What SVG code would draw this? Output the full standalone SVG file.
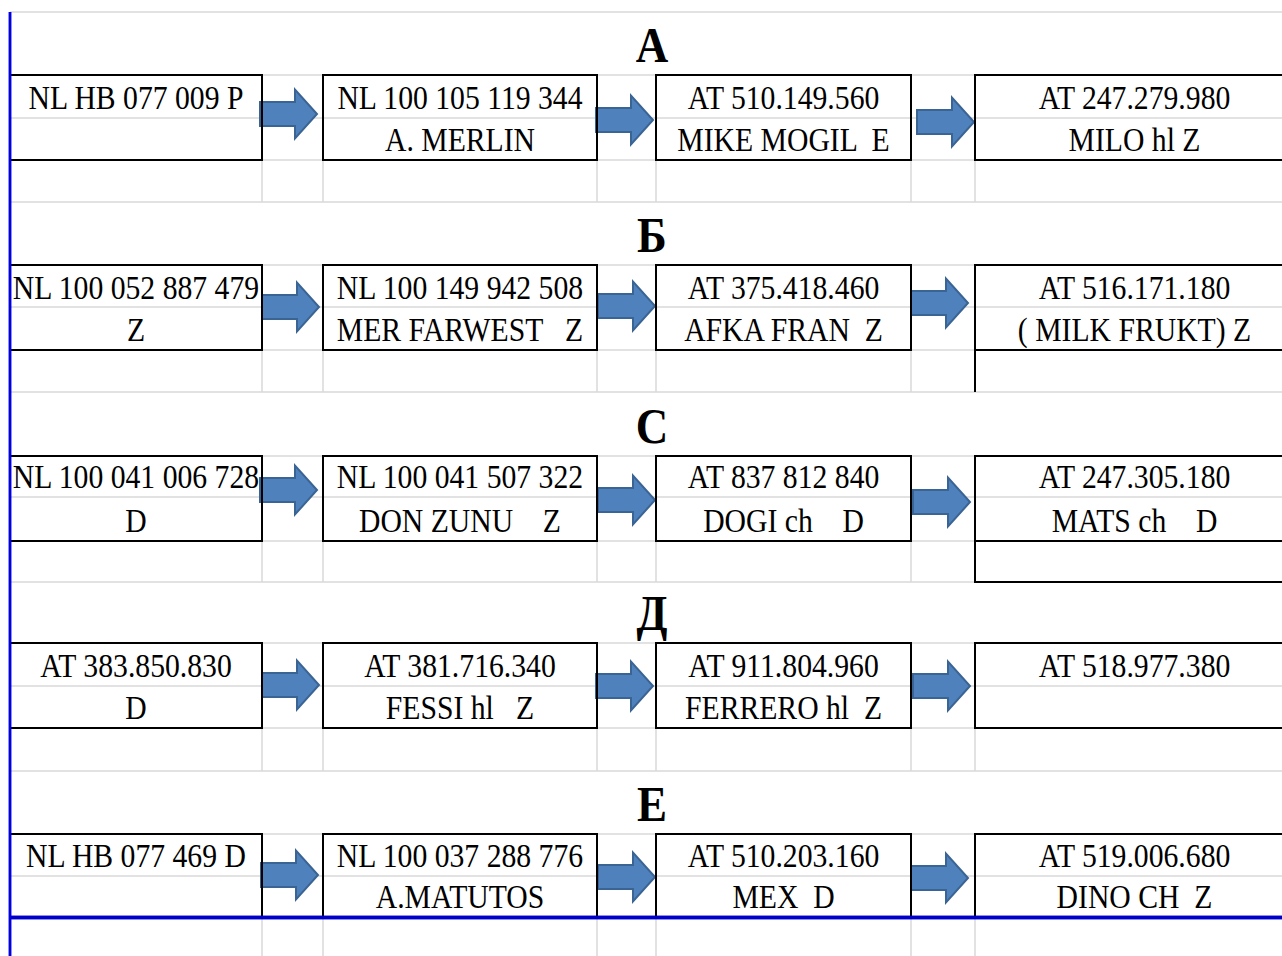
<svg xmlns="http://www.w3.org/2000/svg" width="1282" height="956" viewBox="0 0 1282 956">
<style>
.g{stroke:#d9d9d9;stroke-width:1.5;fill:none}
.b{stroke:#000;stroke-width:2;fill:none}
.t{font-family:"Liberation Serif","Times New Roman",serif;font-size:33px;fill:#000;text-anchor:middle;white-space:pre}
.h{font-family:"Liberation Serif","Times New Roman",serif;font-size:50px;font-weight:bold;fill:#000;text-anchor:middle}
.ar{fill:#4f81bd;stroke:#3a6494;stroke-width:2}
</style>
<defs>
<path id="arr" d="M0,-12 H35 V-24.5 L57,0 L35,24.5 V12 H0 Z"/>
</defs>
<rect x="0" y="0" width="1282" height="956" fill="#fff"/>
<g id="grid">
<path class="g" d="M10,12H1282 M10,75H1282 M10,118H1282 M10,160H1282 M10,202H1282 M10,265H1282 M10,307H1282 M10,350H1282 M10,392H1282 M10,456H1282 M10,497H1282 M10,541H1282 M10,582H1282 M10,643H1282 M10,686H1282 M10,728H1282 M10,771H1282 M10,834H1282 M10,876H1282"/>
<path class="g" d="M262,75V202 M323,75V202 M597,75V202 M656,75V202 M911,75V202 M975,75V202
M262,265V392 M323,265V392 M597,265V392 M656,265V392 M911,265V392 M975,265V392
M262,456V582 M323,456V582 M597,456V582 M656,456V582 M911,456V582 M975,456V582
M262,643V771 M323,643V771 M597,643V771 M656,643V771 M911,643V771 M975,643V771
M262,834V956 M323,834V956 M597,834V956 M656,834V956 M911,834V956 M975,834V956"/>
<line x1="10" y1="12" x2="10" y2="956" stroke="#0000e0" stroke-width="2.5"/>
<line x1="10" y1="917.5" x2="1282" y2="917.5" stroke="#0000cc" stroke-width="3.5"/>
</g>
<g id="titles" transform="scale(0.9,1)">
<text class="h" x="724.4" y="62">А</text>
<text class="h" x="724.4" y="252">Б</text>
<text class="h" x="724.4" y="443">С</text>
<text class="h" x="724.4" y="630">Д</text>
<text class="h" x="724.4" y="821">Е</text>
</g>
<g id="connectors">
<use href="#arr" class="ar" transform="translate(260,114)"/>
<use href="#arr" class="ar" transform="translate(596,120)"/>
<use href="#arr" class="ar" transform="translate(917,122)"/>
<use href="#arr" class="ar" transform="translate(262,307)"/>
<use href="#arr" class="ar" transform="translate(598,306)"/>
<use href="#arr" class="ar" transform="translate(911,303)"/>
<use href="#arr" class="ar" transform="translate(260,490)"/>
<use href="#arr" class="ar" transform="translate(598,500)"/>
<use href="#arr" class="ar" transform="translate(913,502)"/>
<use href="#arr" class="ar" transform="translate(262,685)"/>
<use href="#arr" class="ar" transform="translate(596,686)"/>
<use href="#arr" class="ar" transform="translate(913,686)"/>
<use href="#arr" class="ar" transform="translate(261,875)"/>
<use href="#arr" class="ar" transform="translate(598,877)"/>
<use href="#arr" class="ar" transform="translate(911,878)"/>
</g>
<g id="A1"><rect class="b" x="10" y="75" width="252" height="85"/><text class="t" transform="scale(0.9,1)" x="151.1" y="109">NL HB 077 009 P</text></g>
<g id="A2"><rect class="b" x="323" y="75" width="274" height="85"/><text class="t" transform="scale(0.9,1)" x="511.1" y="109">NL 100 105 119 344</text><text class="t" transform="scale(0.9,1)" x="511.1" y="151">A. MERLIN</text></g>
<g id="A3"><rect class="b" x="656" y="75" width="255" height="85"/><text class="t" transform="scale(0.9,1)" x="870.6" y="109">AT 510.149.560</text><text class="t" transform="scale(0.9,1)" x="870.6" y="151">MIKE MOGIL  E</text></g>
<g id="A4"><rect class="b" x="975" y="75" width="330" height="85"/><text class="t" transform="scale(0.9,1)" x="1260.6" y="109">AT 247.279.980</text><text class="t" transform="scale(0.9,1)" x="1260.6" y="151">MILO hl Z</text></g>

<g id="B1"><rect class="b" x="10" y="265" width="252" height="85"/><text class="t" transform="scale(0.9,1)" x="151.1" y="299">NL 100 052 887 479</text><text class="t" transform="scale(0.9,1)" x="151.1" y="341">Z</text></g>
<g id="B2"><rect class="b" x="323" y="265" width="274" height="85"/><text class="t" transform="scale(0.9,1)" x="511.1" y="299">NL 100 149 942 508</text><text class="t" transform="scale(0.9,1)" x="511.1" y="341">MER FARWEST   Z</text></g>
<g id="B3"><rect class="b" x="656" y="265" width="255" height="85"/><text class="t" transform="scale(0.9,1)" x="870.6" y="299">AT 375.418.460</text><text class="t" transform="scale(0.9,1)" x="870.6" y="341">AFKA FRAN  Z</text></g>
<g id="B4"><rect class="b" x="975" y="265" width="330" height="85"/><path class="b" d="M975,350V392"/><text class="t" transform="scale(0.9,1)" x="1260.6" y="299">AT 516.171.180</text><text class="t" transform="scale(0.9,1)" x="1260.6" y="341">( MILK FRUKT) Z</text></g>

<g id="C1"><rect class="b" x="10" y="456" width="252" height="85"/><text class="t" transform="scale(0.9,1)" x="151.1" y="488">NL 100 041 006 728</text><text class="t" transform="scale(0.9,1)" x="151.1" y="532">D</text></g>
<g id="C2"><rect class="b" x="323" y="456" width="274" height="85"/><text class="t" transform="scale(0.9,1)" x="511.1" y="488">NL 100 041 507 322</text><text class="t" transform="scale(0.9,1)" x="511.1" y="532">DON ZUNU    Z</text></g>
<g id="C3"><rect class="b" x="656" y="456" width="255" height="85"/><text class="t" transform="scale(0.9,1)" x="870.6" y="488">AT 837 812 840</text><text class="t" transform="scale(0.9,1)" x="870.6" y="532">DOGI ch    D</text></g>
<g id="C4"><rect class="b" x="975" y="456" width="330" height="126"/><path class="b" d="M975,541H1282"/><text class="t" transform="scale(0.9,1)" x="1260.6" y="488">AT 247.305.180</text><text class="t" transform="scale(0.9,1)" x="1260.6" y="532">MATS ch    D</text></g>

<g id="D1"><rect class="b" x="10" y="643" width="252" height="85"/><text class="t" transform="scale(0.9,1)" x="151.1" y="677">AT 383.850.830</text><text class="t" transform="scale(0.9,1)" x="151.1" y="719">D</text></g>
<g id="D2"><rect class="b" x="323" y="643" width="274" height="85"/><text class="t" transform="scale(0.9,1)" x="511.1" y="677">AT 381.716.340</text><text class="t" transform="scale(0.9,1)" x="511.1" y="719">FESSI hl   Z</text></g>
<g id="D3"><rect class="b" x="656" y="643" width="255" height="85"/><text class="t" transform="scale(0.9,1)" x="870.6" y="677">AT 911.804.960</text><text class="t" transform="scale(0.9,1)" x="870.6" y="719">FERRERO hl  Z</text></g>
<g id="D4"><rect class="b" x="975" y="643" width="330" height="85"/><text class="t" transform="scale(0.9,1)" x="1260.6" y="677">AT 518.977.380</text></g>

<g id="E1"><rect class="b" x="10" y="834" width="252" height="83"/><text class="t" transform="scale(0.9,1)" x="151.1" y="867">NL HB 077 469 D</text></g>
<g id="E2"><rect class="b" x="323" y="834" width="274" height="83"/><text class="t" transform="scale(0.9,1)" x="511.1" y="867">NL 100 037 288 776</text><text class="t" transform="scale(0.9,1)" x="511.1" y="908">A.MATUTOS</text></g>
<g id="E3"><rect class="b" x="656" y="834" width="255" height="83"/><text class="t" transform="scale(0.9,1)" x="870.6" y="867">AT 510.203.160</text><text class="t" transform="scale(0.9,1)" x="870.6" y="908">MEX  D</text></g>
<g id="E4"><rect class="b" x="975" y="834" width="330" height="83"/><text class="t" transform="scale(0.9,1)" x="1260.6" y="867">AT 519.006.680</text><text class="t" transform="scale(0.9,1)" x="1260.6" y="908">DINO CH  Z</text></g>
<line x1="10" y1="917.5" x2="1282" y2="917.5" stroke="#0000cc" stroke-width="3.5"/>
<line x1="10" y1="12" x2="10" y2="956" stroke="#0000e0" stroke-width="2.5"/>
</svg>
